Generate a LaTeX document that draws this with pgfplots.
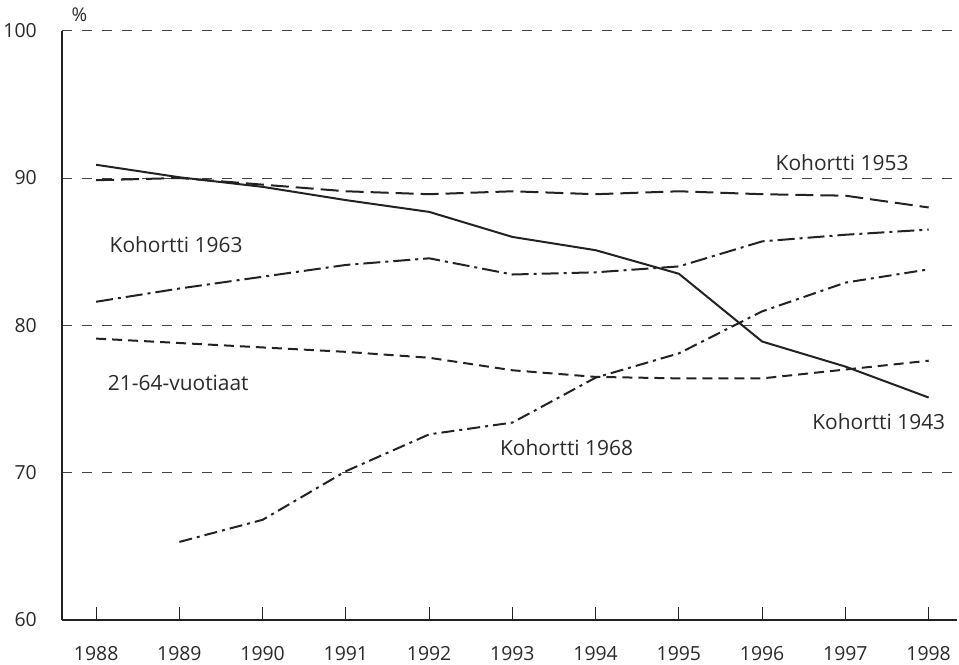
\documentclass[border=0pt]{standalone}
\usepackage{fontspec}
\setmainfont{Open Sans}
\usepackage{pgfplots}
\pgfplotsset{compat=1.18}
\definecolor{ink}{HTML}{222222}
\definecolor{txt}{HTML}{2A2A2A}
\begin{document}
\begin{tikzpicture}
\begin{axis}[
  scale only axis,
  width=895bp, height=589.3bp,
  xmin=1987.59, xmax=1998.34,
  ymin=60, ymax=100,
  axis x line=bottom, axis y line=left,
  axis line style={-, line width=1.1bp, color=ink},
  x axis line style={-}, y axis line style={-},
  xtick={1988,...,1998},
  ytick={60,70,80,90,100},
  xticklabel style={/pgf/number format/1000 sep={}, inner sep=0pt, anchor=north, yshift=-26bp, font=\fontsize{19.5}{22}\selectfont, text=txt},
  yticklabel style={inner sep=0pt, anchor=east, xshift=-25bp, font=\fontsize{19.5}{22}\selectfont, text=txt},
  /pgf/number format/assume math mode=true,
  tick align=inside,
  major tick length=13bp,
  xtick style={line width=1.1bp, color=ink},
  ytick style={draw=none},
  ymajorgrids,
  grid style={line width=1bp, color=ink!85, dash pattern=on 10bp off 10bp},
  clip=false,
]
\addplot[line width=2bp, color=ink] coordinates {(1988,90.9)(1989,90.05)(1990,89.4)(1991,88.5)(1992,87.7)(1993,86.0)(1994,85.1)(1995,83.5)(1996,78.9)(1997,77.2)(1998,75.1)};
\addplot[line width=2bp, color=ink, dash pattern=on 18bp off 7bp] coordinates {(1988,89.85)(1989,90.0)(1990,89.55)(1991,89.1)(1992,88.9)(1993,89.1)(1994,88.9)(1995,89.1)(1996,88.9)(1997,88.8)(1998,88.0)};
\addplot[line width=2bp, color=ink, dash pattern=on 17bp off 5bp on 3bp off 5bp] coordinates {(1988,81.6)(1989,82.5)(1990,83.3)(1991,84.1)(1992,84.55)(1993,83.45)(1994,83.6)(1995,84.0)(1996,85.7)(1997,86.15)(1998,86.5)};
\addplot[line width=2bp, color=ink, dash pattern=on 10bp off 6bp] coordinates {(1988,79.1)(1989,78.8)(1990,78.5)(1991,78.2)(1992,77.8)(1993,76.95)(1994,76.5)(1995,76.4)(1996,76.4)(1997,77.0)(1998,77.6)};
\addplot[line width=2bp, color=ink, dash pattern=on 13bp off 5bp on 3bp off 5bp] coordinates {(1989,65.3)(1990,66.8)(1991,70.1)(1992,72.6)(1993,73.4)(1994,76.45)(1995,78.1)(1996,80.95)(1997,82.9)(1998,83.8)};
\begin{scope}[every node/.style={inner sep=0pt, anchor=west, text=txt, font=\fontsize{21}{24}\selectfont}]
\node at (axis cs:1996.16,91.04) {Kohortti 1953};
\node at (axis cs:1996.60,73.45) {Kohortti 1943};
\node at (axis cs:1988.14,76.1) {21-64-vuotiaat};
\node at (axis cs:1988.16,85.5) {Kohortti 1963};
\node at (axis cs:1992.85,71.7) {Kohortti 1968};
\end{scope}
\node[inner sep=0pt, text=txt, font=\fontsize{19}{22}\selectfont] at (axis cs:1987.8,101.1) {\%};
\path (rel axis cs:0,0) ++(-62bp,-45bp) coordinate (bbA);
\path (rel axis cs:1,1) ++(2bp,30.7bp) coordinate (bbB);
\path[draw=none] (bbA) rectangle (bbB);
\end{axis}
\end{tikzpicture}
\end{document}
